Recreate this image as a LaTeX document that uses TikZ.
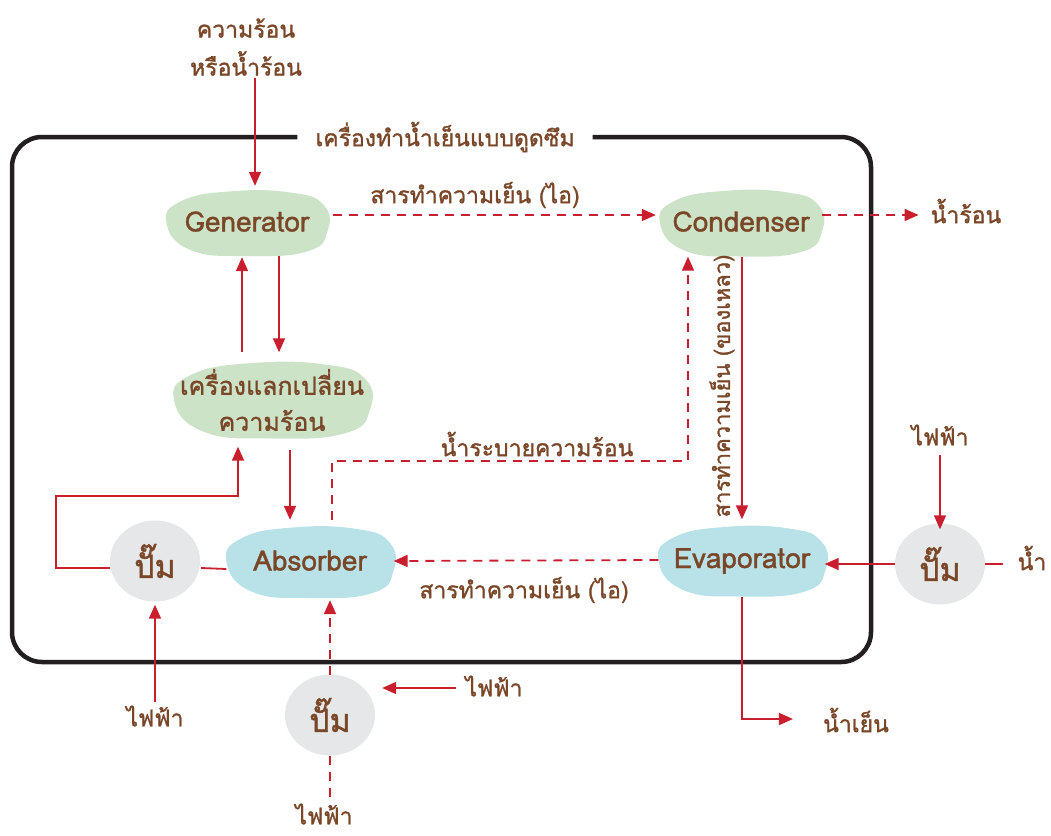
\documentclass[tikz,border=0pt]{standalone}
\usepackage{fontspec}
\setmainfont{Loma}[Script=Thai,FakeBold=1.3]
\usetikzlibrary{arrows.meta,shapes.geometric}

\definecolor{txtbrown}{RGB}{122,70,40}
\definecolor{arrowred}{RGB}{200,30,45}
\definecolor{framegray}{RGB}{35,31,32}
\definecolor{blobgreen}{RGB}{204,227,200}
\definecolor{blobblue}{RGB}{184,226,232}
\definecolor{pumpgray}{RGB}{230,231,232}

% irregular filled blob: colour, centre x, centre y, half width, half height
\newcommand\blobfill[5]{%
  \begin{scope}[shift={(#2,#3)},xscale=#4,yscale=#5]
    \fill[#1] plot[smooth cycle,tension=0.8] coordinates
      {(-1.0,0.0) (-0.82,-0.66) (-0.2,-0.96) (0.55,-0.92) (0.95,-0.55)
       (1.0,0.25) (0.75,0.86) (0.0,1.0) (-0.7,0.82)};
  \end{scope}}

\tikzset{
  lab/.style={text=txtbrown,font=\fontsize{23}{38}\selectfont,inner sep=0pt,align=center},
  blobtxt/.style={text=txtbrown,font=\fontsize{28}{36}\selectfont,inner sep=0pt,align=center},
  pump/.style={ellipse,fill=pumpgray,inner sep=0pt,minimum width=90pt,minimum height=81pt,
    text=txtbrown,font=\fontsize{32}{36}\selectfont},
  link/.style={draw=arrowred,line width=1.8pt},
  flow/.style={link,-{Triangle[length=14pt,width=12pt]}},
  dflow/.style={flow,dash pattern=on 9pt off 7pt},
  dlink/.style={link,dash pattern=on 9pt off 7pt},
  frame/.style={draw=framegray,line width=4.5pt,rounded corners=30pt}
}

\begin{document}
\begin{tikzpicture}[x=1pt,y=-1pt]
\useasboundingbox (0,0) rectangle (1051,835);

% outer housing with the title set into its top edge
\node[lab,minimum width=295pt] (title) at (445,137) {เครื่องทำน้ำเย็นแบบดูดซึม};
\draw[frame] (title.west) -| (12,662) -| (871,137) -- (title.east);

% component blobs
\blobfill{blobgreen}{247}{223}{80.5}{33}
\blobfill{blobgreen}{272}{400}{98}{38.5}
\blobfill{blobgreen}{741}{223}{81}{33.5}
\blobfill{blobblue}{310}{562}{83.5}{36}
\blobfill{blobblue}{742}{561}{83.5}{35.5}

\node[blobtxt,minimum width=161pt,minimum height=66pt] (gen) at (247,223) {\raisebox{3pt}{Generator}};
\node[blobtxt,minimum width=196pt,minimum height=77pt,font=\fontsize{25}{36}\selectfont] (hx) at (272,400) {เครื่องแลกเปลี่ยน\\ความร้อน};
\node[blobtxt,minimum width=162pt,minimum height=67pt] (cond) at (741,223) {\raisebox{3pt}{Condenser}};
\node[blobtxt,minimum width=167pt,minimum height=72pt] (absb) at (310,562) {\raisebox{3pt}{Absorber}};
\node[blobtxt,minimum width=167pt,minimum height=71pt] (evap) at (742,561) {\raisebox{3pt}{Evaporator}};

% pumps
\node[pump] (pumpL) at (155,561) {ปั๊ม};
\node[pump] (pumpB) at (330,715) {ปั๊ม};
\node[pump] (pumpR) at (940,564) {ปั๊ม};

% outside labels
\node[lab] (heat) at (246,47) {ความร้อน\\หรือน้ำร้อน};
\node[lab] (hotw) at (966,211) {น้ำร้อน};
\node[lab] (vap1) at (475,195) {สารทำความเย็น (ไอ)};
\node[lab] (vap2) at (524,590) {สารทำความเย็น (ไอ)};
\node[lab,rotate=90,font=\fontsize{22}{30}\selectfont] (liq) at (722,386) {สารทำความเย็น (ของเหลว)};
\node[lab] (cw) at (537,444) {น้ำระบายความร้อน};
\node[lab] (elecL) at (155,716) {ไฟฟ้า};
\node[lab] (elecB) at (324,814) {ไฟฟ้า};
\node[lab] (elecB2) at (494,686) {ไฟฟ้า};
\node[lab] (elecR) at (940,435) {ไฟฟ้า};
\node[lab] (water) at (1032,558) {น้ำ};
\node[lab] (cold) at (856,720) {น้ำเย็น};

% heat input
\draw[flow] ([xshift=9pt,yshift=-2pt]heat.south) -- ([xshift=8pt,yshift=4pt]gen.north);

% generator <-> heat exchanger
\draw[flow] ([xshift=32pt]gen.south) -- ([xshift=7pt,yshift=9pt]hx.north);
\draw[flow] ([xshift=-30pt,yshift=9pt]hx.north) -- ([xshift=-5pt,yshift=-1pt]gen.south);

% refrigerant vapour to condenser, heat rejected
\draw[dflow] ([xshift=5pt,yshift=8pt]gen.east) -- ([xshift=-4pt,yshift=8pt]cond.west);
\draw[dflow,shorten >=12pt] ([yshift=8pt]cond.east) -- ([yshift=8pt]cond.east -| hotw.west);

% liquid refrigerant down to evaporator
\draw[flow] ([xshift=1pt]cond.south) -- ([yshift=6pt]evap.north);

% cooling water from absorber up to condenser
\draw[dflow] ([xshift=22pt,yshift=6pt]absb.north) -- ++(0,-59) -| ([xshift=-53pt]cond.south);

% refrigerant vapour from evaporator to absorber
\draw[dflow] ([yshift=1pt]evap.west) -- ([yshift=1pt]absb.east);

% absorber -> heat exchanger via pump
\draw[link] ([yshift=-7pt]absb.west) -- ([yshift=-7pt,xshift=1pt]pumpL.east);
\draw[flow] ([yshift=-7pt]pumpL.west) -| ([xshift=-54pt,yshift=65pt]pumpL.west)
            -| ([xshift=-34pt,yshift=-8pt]hx.south);
\draw[flow] ([xshift=18pt,yshift=-11pt]hx.south) -- ([xshift=-20pt,yshift=6pt]absb.north);

% electricity to pumps
\draw[flow] ([yshift=3pt]elecL.north) -- ([yshift=-3pt]pumpL.south);
\draw[dflow] ([yshift=-1pt]pumpB.north) -- ([xshift=20pt,yshift=-2pt]absb.south);
\draw[dlink] (pumpB.south) -- ([yshift=3pt]pumpB.south |- elecB.north);
\draw[flow,shorten >=7pt] ([xshift=-9pt,yshift=-2pt]elecB2.west) -- ([yshift=-2pt]elecB2.west -| pumpB.east);
\draw[flow] ([yshift=-9pt]elecR.south) -- ([yshift=-6pt]pumpR.north);

% water through right pump into evaporator, chilled water out
\draw[link] ([xshift=-14pt]water.west |- pumpR.east) -- (pumpR.east);
\draw[flow,shorten >=-1pt] (pumpR.west) -- (evap.east |- pumpR.west);
\draw[flow] (evap.south) |- ([xshift=-30pt,yshift=1pt]cold.west);
\end{tikzpicture}
\end{document}
